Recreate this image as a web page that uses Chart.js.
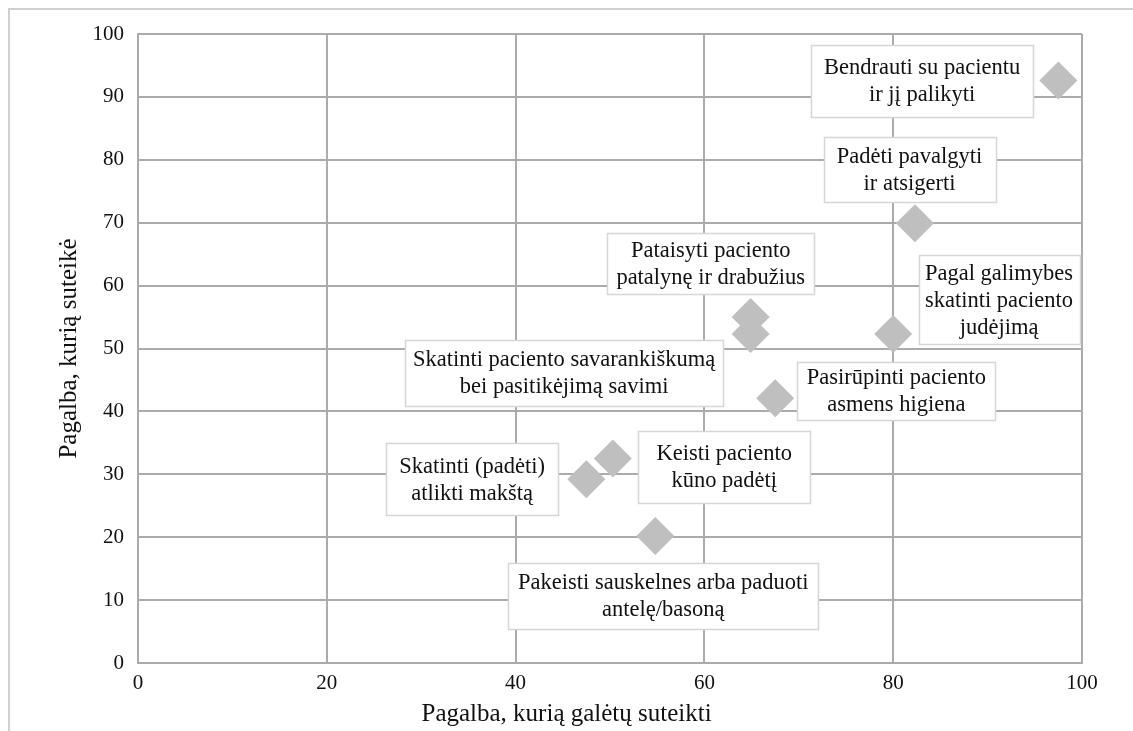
<!DOCTYPE html>
<html>
<head>
<meta charset="utf-8">
<script src="https://cdn.jsdelivr.net/npm/chart.js@4/dist/chart.umd.min.js"></script>
<style>
  html, body { margin: 0; padding: 0; background: #ffffff; }
  #wrap { position: relative; width: 1133px; height: 731px; }
  canvas { display: block; }
</style>
</head>
<body>
<div id="wrap"><canvas id="c" width="1133" height="731"></canvas></div>
<script>
// ---- data ----
const categories = [
  "Bendrauti su pacientu\nir jį palikyti",
  "Padėti pavalgyti\nir atsigerti",
  "Pataisyti paciento\npatalynę ir drabužius",
  "Skatinti paciento savarankiškumą\nbei pasitikėjimą savimi",
  "Pagal galimybes\nskatinti paciento\njudėjimą",
  "Pasirūpinti paciento\nasmens higiena",
  "Keisti paciento\nkūno padėtį",
  "Skatinti (padėti)\natlikti makštą",
  "Pakeisti sauskelnes arba paduoti\nantelę/basoną"
];
const couldProvide = [97.5, 82.3, 64.9, 64.9, 80.0, 67.5, 50.3, 47.5, 54.8];
const provided     = [92.6, 69.9, 55.0, 52.3, 52.3, 42.1, 32.5, 29.2, 20.2];
const xTickValues = [0, 20, 40, 60, 80, 100];
const yTickValues = [0, 10, 20, 30, 40, 50, 60, 70, 80, 90, 100];
const xTitle = "Pagalba, kurią galėtų suteikti";
const yTitle = "Pagalba, kurią suteikė";

// ---- label box layout (data-space centre, pixel size) ----
const labelLayout = [
  { cx: 83.06, cy: 92.6,  w: 222, h: 72 },
  { cx: 81.73, cy: 78.5,  w: 172, h: 65 },
  { cx: 60.67, cy: 63.5,  w: 207, h: 61 },
  { cx: 45.14, cy: 46.1,  w: 318, h: 66 },
  { cx: 91.21, cy: 57.77, w: 161, h: 89 },
  { cx: 80.34, cy: 43.23, w: 198, h: 58 },
  { cx: 62.10, cy: 31.18, w: 172, h: 72 },
  { cx: 35.39, cy: 29.19, w: 172, h: 72 },
  { cx: 55.65, cy: 10.69, w: 310, h: 66 }
];

const FONT = '"Liberation Serif", "Times New Roman", serif';
const GRID = '#ababab';

const points = couldProvide.map((x, i) => ({ x: x, y: provided[i] }));

const framePlugin = {
  id: 'frame',
  beforeDraw(chart) {
    const ctx = chart.ctx;
    ctx.save();
    ctx.fillStyle = '#ffffff';
    ctx.fillRect(0, 0, chart.width, chart.height);
    ctx.strokeStyle = '#d0d0d0';
    ctx.lineWidth = 2;
    ctx.beginPath();
    ctx.moveTo(9, chart.height);
    ctx.lineTo(9, 9);
    ctx.lineTo(chart.width, 9);
    ctx.stroke();
    ctx.restore();
  }
};

const labelPlugin = {
  id: 'labelBoxes',
  beforeDatasetsDraw(chart) {
    const ctx = chart.ctx;
    const xs = chart.scales.x, ys = chart.scales.y;
    ctx.save();
    ctx.font = '22.5px ' + FONT;
    ctx.textAlign = 'center';
    ctx.textBaseline = 'middle';
    categories.forEach((txt, i) => {
      const L = labelLayout[i];
      const cx = xs.getPixelForValue(L.cx);
      const cy = ys.getPixelForValue(L.cy);
      const x0 = Math.round(cx - L.w / 2) + 0.5;
      const y0 = Math.round(cy - L.h / 2) + 0.5;
      ctx.fillStyle = '#ffffff';
      ctx.fillRect(x0, y0, L.w, L.h);
      ctx.strokeStyle = '#d6d6d6';
      ctx.lineWidth = 1.5;
      ctx.strokeRect(x0, y0, L.w, L.h);
      const lines = txt.split('\n');
      const lh = 27;
      ctx.fillStyle = '#111111';
      lines.forEach((ln, k) => {
        const ty = cy + (k - (lines.length - 1) / 2) * lh + 1;
        ctx.fillText(ln, cx, ty);
      });
    });
    ctx.restore();
  },
  afterDraw(chart) {
    const ctx = chart.ctx;
    const xs = chart.scales.x, ys = chart.scales.y;
    ctx.save();
    ctx.fillStyle = '#111111';
    ctx.font = '25px ' + FONT;
    ctx.textAlign = 'center';
    ctx.textBaseline = 'alphabetic';
    ctx.fillText(xTitle, xs.getPixelForValue(45.4), 721);
    ctx.translate(76, (ys.top + ys.bottom) / 2);
    ctx.rotate(-Math.PI / 2);
    ctx.fillText(yTitle, 0, 0);
    ctx.restore();
  }
};

new Chart(document.getElementById('c'), {
  type: 'scatter',
  data: {
    datasets: [{
      data: points,
      pointStyle: 'rectRot',
      pointRadius: 19,
      pointHoverRadius: 19,
      backgroundColor: '#bfbfbf',
      borderColor: '#bfbfbf',
      borderWidth: 0
    }]
  },
  options: {
    responsive: false,
    animation: false,
    events: [],
    layout: { padding: { left: 0, top: 34, right: 51, bottom: 0 } },
    plugins: { legend: { display: false }, tooltip: { enabled: false } },
    scales: {
      x: {
        type: 'linear',
        min: 0, max: 100,
        afterBuildTicks(scale) { scale.ticks = xTickValues.map(v => ({ value: v })); },
        afterFit(scale) { scale.height = 68; },
        grid: { color: GRID, lineWidth: 2, drawTicks: false },
        border: { color: GRID, width: 2 },
        ticks: { color: '#111111', font: { family: FONT, size: 21 }, padding: 8, maxRotation: 0 }
      },
      y: {
        type: 'linear',
        min: 0, max: 100,
        afterBuildTicks(scale) { scale.ticks = yTickValues.map(v => ({ value: v })); },
        afterFit(scale) { scale.width = 138; },
        grid: { color: GRID, lineWidth: 2, drawTicks: false },
        border: { color: GRID, width: 2 },
        ticks: { color: '#111111', font: { family: FONT, size: 21 }, padding: 14 }
      }
    }
  },
  plugins: [framePlugin, labelPlugin]
});
</script>
</body>
</html>
